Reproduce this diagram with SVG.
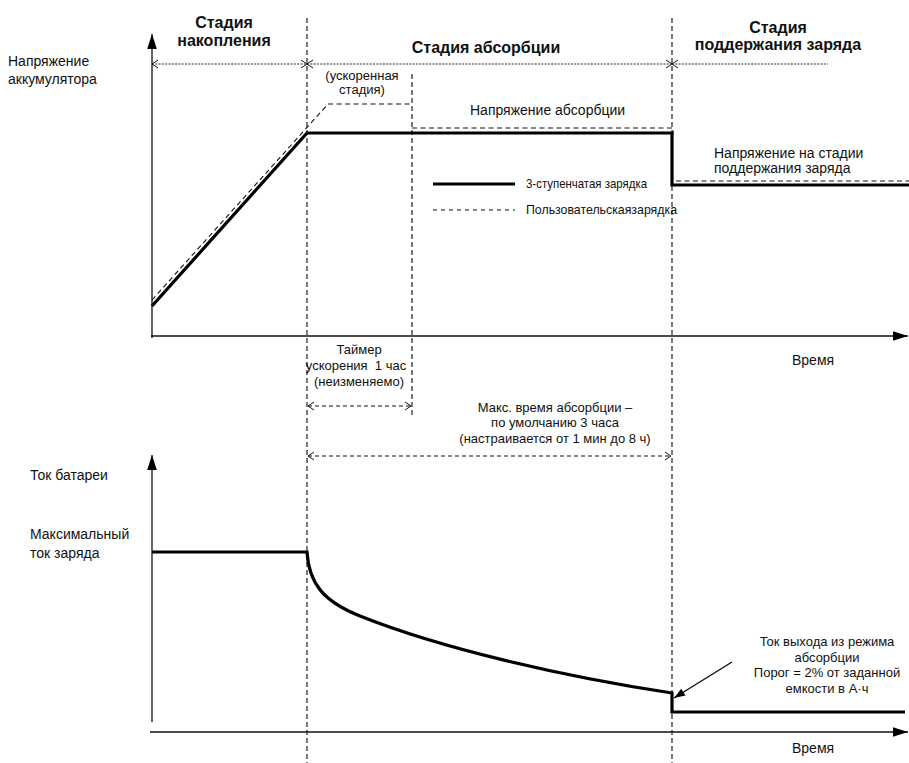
<svg xmlns="http://www.w3.org/2000/svg" width="909" height="763" viewBox="0 0 909 763">
  <style>
    text { font-family: "Liberation Sans", Arial, sans-serif; fill: #111; }
    .hdr { font-size: 16px; font-weight: bold; text-anchor: middle; }
    .lbl { font-size: 14px; }
    .sm { font-size: 13px; }
    .mid { text-anchor: middle; }
    .leg { font-size: 13px; }
    .axis { stroke: #111; stroke-width: 1.3; fill: none; }
    .thick { stroke: #000; stroke-width: 3.2; fill: none; stroke-linejoin: miter; }
    .dash { stroke: #111; stroke-width: 1.1; fill: none; stroke-dasharray: 5 3.5; }
    .bound { stroke: #333; stroke-width: 1.3; fill: none; stroke-dasharray: 5 3; }
    .dot { stroke: #111; stroke-width: 0.9; fill: none; stroke-dasharray: 2 1.3; }
    .span { stroke: #111; stroke-width: 1.1; fill: none; stroke-dasharray: 4 3; }
  </style>
  <defs>
    <marker id="chev" viewBox="-8 -6 10 12" markerWidth="10" markerHeight="12" refX="0" refY="0" orient="auto-start-reverse" markerUnits="userSpaceOnUse">
      <path d="M-6,-4 L0,0 L-6,4" fill="none" stroke="#111" stroke-width="1"/>
    </marker>
    <marker id="tip" viewBox="-16 -6 17 12" markerWidth="17" markerHeight="12" refX="0" refY="0" orient="auto" markerUnits="userSpaceOnUse">
      <path d="M-15,-4.8 L0,0 L-15,4.8 Z" fill="#000"/>
    </marker>
    <marker id="ptr" viewBox="-12 -5 13 10" markerWidth="13" markerHeight="10" refX="0" refY="0" orient="auto" markerUnits="userSpaceOnUse">
      <path d="M-11,-4 L0,0 L-11,4 Z" fill="#000"/>
    </marker>
  </defs>

  <!-- stage boundaries -->
  <g id="boundaries">
    <line class="bound" x1="307" y1="18" x2="307" y2="763"/>
    <line class="bound" x1="672" y1="18" x2="672" y2="763"/>
    <line class="bound" x1="412" y1="74" x2="412" y2="416"/>
  </g>

  <!-- axes -->
  <g id="axes">
    <line class="axis" x1="152" y1="338" x2="152" y2="34" marker-end="url(#tip)"/>
    <line class="axis" x1="151" y1="336" x2="908" y2="336" marker-end="url(#tip)"/>
    <line class="axis" x1="152" y1="722" x2="152" y2="455" marker-end="url(#tip)"/>
    <line class="axis" x1="150" y1="732" x2="908" y2="732" marker-end="url(#tip)"/>
  </g>

  <!-- stage headers -->
  <g id="stage-bulk">
    <text class="hdr" x="224" y="28">Стадия</text>
    <text class="hdr" x="224" y="46">накопления</text>
  </g>
  <g id="stage-absorption">
    <text class="hdr" x="486" y="53">Стадия абсорбции</text>
  </g>
  <g id="stage-float">
    <text class="hdr" x="778" y="33">Стадия</text>
    <text class="hdr" x="778" y="50">поддержания заряда</text>
  </g>

  <!-- axis labels -->
  <g id="label-voltage">
    <text class="lbl" x="8" y="66">Напряжение</text>
    <text class="lbl" x="8" y="84">аккумулятора</text>
  </g>
  <g id="label-time-top"><text class="lbl" x="792" y="365">Время</text></g>
  <g id="label-current">
    <text class="lbl" x="30" y="480">Ток батареи</text>
  </g>
  <g id="label-max-current">
    <text class="lbl" x="30" y="539">Максимальный</text>
    <text class="lbl" x="30" y="558">ток заряда</text>
  </g>
  <g id="label-time-bottom"><text class="lbl" x="792" y="753">Время</text></g>

  <!-- voltage curves -->
  <g id="voltage-3stage">
    <polyline class="thick" points="152,306 307,133 672,133 672,185 909,185"/>
  </g>
  <g id="voltage-user">
    <polyline class="dash" points="152,300 328,104 412,104"/>
    <polyline class="dash" points="412,128 673,128 673,134"/>
    <line class="dash" x1="676" y1="181" x2="909" y2="181"/>
  </g>

  <!-- voltage texts -->
  <g id="note-boost">
    <text class="sm mid" x="362" y="80">(ускоренная</text>
    <text class="sm mid" x="362" y="94">стадия)</text>
  </g>
  <g id="note-absorption-voltage">
    <text class="lbl" x="470" y="115">Напряжение абсорбции</text>
  </g>
  <g id="note-float-voltage">
    <text class="lbl" x="714" y="158">Напряжение на стадии</text>
    <text class="lbl" x="714" y="173">поддержания заряда</text>
  </g>

  <!-- legend -->
  <g id="legend">
    <line class="thick" x1="433" y1="184" x2="515" y2="184"/>
    <text class="leg" x="526" y="188" textLength="121" lengthAdjust="spacingAndGlyphs">3-ступенчатая зарядка</text>
    <line class="dash" x1="433" y1="210" x2="515" y2="210" style="stroke-dasharray:4 4"/>
    <text class="leg" x="526" y="214" textLength="151" lengthAdjust="spacingAndGlyphs">Пользовательскаязарядка</text>
  </g>

  <!-- timing notes -->
  <g id="note-boost-timer">
    <text class="sm mid" x="359" y="354">Таймер</text>
    <text class="sm mid" x="356" y="370" style="white-space:pre">ускорения  1 час</text>
    <text class="sm mid" x="359" y="386">(неизменяемо)</text>
  </g>
  <g id="note-max-absorption">
    <text class="sm mid" x="555" y="412">Макс. время абсорбции –</text>
    <text class="sm mid" x="555" y="427">по умолчанию 3 часа</text>
    <text class="sm mid" x="555" y="443">(настраивается от 1 мин до 8 ч)</text>
  </g>

  <!-- current curve -->
  <g id="current">
    <path class="thick" d="M152,552 L307,552 C309,585 325,602 360,616 C440,648 560,676 672,693 L672,712 L905,712"/>
  </g>

  <!-- tail current note -->
  <g id="note-tail-current">
    <text class="sm mid" x="827" y="646">Ток выхода из режима</text>
    <text class="sm mid" x="827" y="662">абсорбции</text>
    <text class="sm mid" x="827" y="677">Порог = 2% от заданной</text>
    <text class="sm mid" x="827" y="693">емкости в А·ч</text>
  </g>

  <!-- connectors: spans and pointers -->
  <g id="connectors">
    <line class="dot" x1="152" y1="64" x2="307" y2="64" marker-start="url(#chev)" marker-end="url(#chev)"/>
    <line class="dot" x1="307" y1="64" x2="672" y2="64" marker-start="url(#chev)" marker-end="url(#chev)"/>
    <line class="dot" x1="672" y1="64" x2="828" y2="64" marker-start="url(#chev)"/>
    <line class="span" x1="308" y1="406" x2="411" y2="406" marker-start="url(#chev)" marker-end="url(#chev)"/>
    <line class="span" x1="308" y1="456" x2="671" y2="456" marker-start="url(#chev)" marker-end="url(#chev)"/>
    <line stroke="#000" stroke-width="1.2" x1="732" y1="662" x2="674" y2="698" marker-end="url(#ptr)"/>
  </g>
</svg>
